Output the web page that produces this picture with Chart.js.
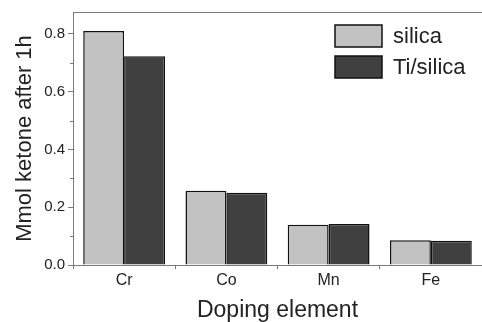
<!DOCTYPE html>
<html>
<head>
<meta charset="utf-8">
<script src="https://cdn.jsdelivr.net/npm/chart.js@4.4.0/dist/chart.umd.min.js"></script>
<style>
  html, body { margin: 0; padding: 0; background: #fff; overflow: hidden; }
  #wrap { width: 482px; height: 322px; position: relative; }
</style>
</head>
<body>
<div id="wrap"><canvas id="chart"></canvas></div>
<script>
const CATEGORIES   = ['Cr', 'Co', 'Mn', 'Fe'];
const SILICA       = [0.81, 0.257, 0.139, 0.086];
const TI_SILICA    = [0.723, 0.25, 0.142, 0.084];
const SERIES_NAMES = ['silica', 'Ti/silica'];
const Y_TICKS      = [0, 0.2, 0.4, 0.6, 0.8];
const Y_MINOR      = [0.1, 0.3, 0.5, 0.7];

const AXIS_COLOR = '#7a7a7a';
const FONT = 'Liberation Sans, Arial, sans-serif';

// top frame line, minor y ticks and the boxed legend
const extras = {
  id: 'extras',
  afterDraw(chart) {
    const { ctx, chartArea: a, scales: { y } } = chart;
    ctx.save();
    ctx.strokeStyle = AXIS_COLOR;
    ctx.lineWidth = 1;
    ctx.beginPath();
    ctx.moveTo(a.left, a.top + 0.5);
    ctx.lineTo(a.right, a.top + 0.5);
    Y_MINOR.forEach(v => {
      const py = Math.round(y.getPixelForValue(v)) + 0.5;
      ctx.moveTo(a.left - 3, py);
      ctx.lineTo(a.left, py);
    });
    ctx.stroke();

    ctx.font = '22px ' + FONT;
    ctx.textBaseline = 'middle';
    chart.data.datasets.forEach((ds, i) => {
      const bx = 335, by = 25 + i * 31;
      ctx.fillStyle = ds.backgroundColor;
      ctx.fillRect(bx, by, 47, 22);
      ctx.strokeStyle = '#111';
      ctx.lineWidth = 1.5;
      ctx.strokeRect(bx, by, 47, 22);
      ctx.fillStyle = '#222';
      ctx.fillText(ds.label, 393, by + 12);
    });
    ctx.restore();
  }
};

new Chart(document.getElementById('chart'), {
  type: 'bar',
  data: {
    labels: CATEGORIES,
    datasets: [
      { label: SERIES_NAMES[0], data: SILICA,    backgroundColor: '#c2c2c2', borderColor: '#111', borderWidth: 1.5 },
      { label: SERIES_NAMES[1], data: TI_SILICA, backgroundColor: '#404040', borderColor: '#111', borderWidth: 1.5 }
    ]
  },
  options: {
    responsive: true,
    maintainAspectRatio: false,
    animation: false,
    layout: { padding: { top: 12, right: 0, left: 0, bottom: 0 } },
    plugins: { legend: { display: false }, tooltip: { enabled: false } },
    datasets: { bar: { categoryPercentage: 0.8, barPercentage: 1 } },
    scales: {
      x: {
        afterFit: s => { s.height = 57; },
        grid: { drawOnChartArea: false, color: AXIS_COLOR, tickLength: 4 },
        border: { color: AXIS_COLOR },
        ticks: { color: '#222', font: { family: FONT, size: 16 }, padding: 2 },
        title: { display: true, text: 'Doping element', color: '#222', font: { family: FONT, size: 23 }, padding: { top: 0, bottom: -2 } }
      },
      y: {
        min: 0,
        max: 0.876,
        afterFit: s => { s.width = 73; },
        afterBuildTicks: s => { s.ticks = Y_TICKS.map(v => ({ value: v })); },
        grid: { drawOnChartArea: false, color: AXIS_COLOR, tickLength: 5 },
        border: { color: AXIS_COLOR },
        ticks: { color: '#222', font: { family: FONT, size: 15 }, padding: 3, callback: v => v.toFixed(1) },
        title: { display: true, text: 'Mmol ketone after 1h', color: '#222', font: { family: FONT, size: 22 }, padding: { top: 12, bottom: 0 } }
      }
    }
  },
  plugins: [extras]
});
</script>
</body>
</html>
